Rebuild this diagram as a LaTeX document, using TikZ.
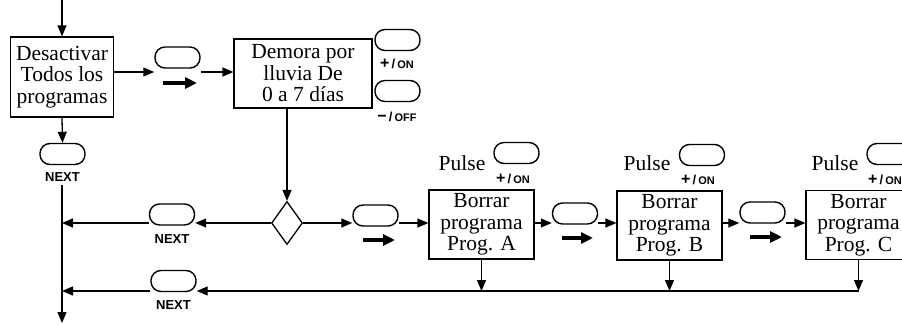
\documentclass[tikz,border=0pt]{standalone}
\usepackage{fontspec}
\setmainfont{Liberation Serif}
\newfontfamily\lsans{Liberation Sans}
\usetikzlibrary{arrows.meta,shapes.geometric}
\tikzset{
 box/.style={draw,line width=1.2pt,minimum width=105pt,minimum height=69pt,inner sep=0pt,align=center,font=\fontsize{21.5}{21.5}\selectfont},
 btn/.style={draw,line width=1.4pt,rounded corners=10pt,minimum width=45pt,minimum height=21pt,inner sep=0pt},
 arr/.style={line width=1.3pt,-{Triangle[length=11pt,width=9pt]}},
 fatarr/.style={line width=3.5pt,-{Triangle[length=12pt,width=11pt]}},
 lbl/.style={font=\lsans\bfseries\fontsize{13}{13}\selectfont,inner sep=0pt},
 txt/.style={font=\fontsize{21.5}{21.5}\selectfont,inner sep=0pt},
}
\newcommand{\plusOn}{{\lsans\bfseries\fontsize{16}{16}\selectfont +\fontsize{13}{13}\selectfont\,/\,\fontsize{11}{11}\selectfont ON}}
\newcommand{\minusOff}{{\lsans\bfseries\fontsize{16}{16}\selectfont \char"2212\fontsize{13}{13}\selectfont\,/\,\fontsize{11}{11}\selectfont OFF}}
\begin{document}
\begin{tikzpicture}[x=1pt,y=-1pt]
\useasboundingbox (0,0) rectangle (902,324);
\clip (0,0) rectangle (902,324);
% row coordinates
\coordinate (top) at (62,0);
\coordinate (r0) at (0,72);
\coordinate (r1) at (0,223);
\coordinate (r2) at (0,291);
\coordinate (bot) at (62,323);
\coordinate (vstart) at (62,185);
% left column
\node[box,minimum width=103pt,minimum height=80pt] (des) at (62,77) {Desactivar\\Todos los\\programas};
\node[btn] (nL) at (62.5,154) {};
\node[lbl] (nLt) at (62.5,177) {NEXT};
\draw[arr] (top) -- (des.north);
\draw[arr] (des.south) -- (nL.north);
\draw[arr] (vstart) -- (bot);
% top row
\node[btn] (b1) at (177.5,57.5) {};
\draw[fatarr] (163,83) -- (197,83);
\node[box,minimum width=138pt,minimum height=69pt] (dem) at (303,73.5) {Demora por\\lluvia De\\0 a 7 días};
\draw[arr] (des.east |- r0) -- (b1.west |- r0);
\draw[arr] (b1.east |- r0) -- (dem.west |- r0);
\node[btn] (on) at (397.5,40) {};
\node[inner sep=0pt] (ont) at (397,64) {\plusOn};
\node[btn] (off) at (397.5,91) {};
\node[inner sep=0pt] (offt) at (397,117) {\minusOff};
% diamond
\node[diamond,draw,line width=1.3pt,minimum width=31pt,minimum height=43pt,inner sep=0pt] (dia) at (287,223) {};
\draw[arr] (dia.north |- dem.south) -- (dia.north);
% row 1
\node[btn] (nx1) at (172,214.5) {};
\node[lbl] at (172,239) {NEXT};
\draw[arr] (dia.west) -- (nx1.east |- r1);
\draw[arr] (nx1.west |- r1) -- (bot |- r1);
\node[btn] (o1) at (375.5,215.5) {};
\draw[fatarr] (363,240) -- (395,240);
\draw[arr] (dia.east) -- (o1.west |- r1);
\node[box] (pa) at (481.5,224.5) {Borrar\\programa\\Prog. A};
\node[box] (pb) at (669.5,225.5) {Borrar\\programa\\Prog. B};
\node[box] (pc) at (858.5,225) {Borrar\\programa\\Prog. C};
\draw[arr] (o1.east |- r1) -- (pa.west |- r1);
\node[btn] (o2) at (575,213.5) {};
\draw[fatarr] (562,238) -- (593,238);
\draw[arr] (pa.east |- r1) -- (o2.west |- r1);
\draw[arr] (o2.east |- r1) -- (pb.west |- r1);
\node[btn] (o3) at (762.5,212.5) {};
\draw[fatarr] (750,237) -- (782,237);
\draw[arr] (pb.east |- r1) -- (o3.west |- r1);
\draw[arr] (o3.east |- r1) -- (pc.west |- r1);
% pulse labels
\node[txt] at (462,163) {Pulse};
\node[btn] (pA) at (516.5,153) {};
\node[inner sep=0pt] at (513,179) {\plusOn};
\node[txt] at (647,163) {Pulse};
\node[btn] (pB) at (702,155) {};
\node[inner sep=0pt] at (698,180) {\plusOn};
\node[txt] at (835,163) {Pulse};
\node[btn] (pC) at (889.5,154) {};
\node[inner sep=0pt] at (885,180) {\plusOn};
% row 2
\node[btn] (nx2) at (173.5,281) {};
\node[lbl] at (173.5,305) {NEXT};
\draw[arr] (pa.south) -- (pa.south |- r2);
\draw[arr] (pb.south) -- (pb.south |- r2);
\draw[arr] (pc.south) -- (pc.south |- r2);
\draw[arr] (pc.south |- r2) -- (nx2.east |- r2);
\draw[arr] (nx2.west |- r2) -- (bot |- r2);
\end{tikzpicture}
\end{document}
